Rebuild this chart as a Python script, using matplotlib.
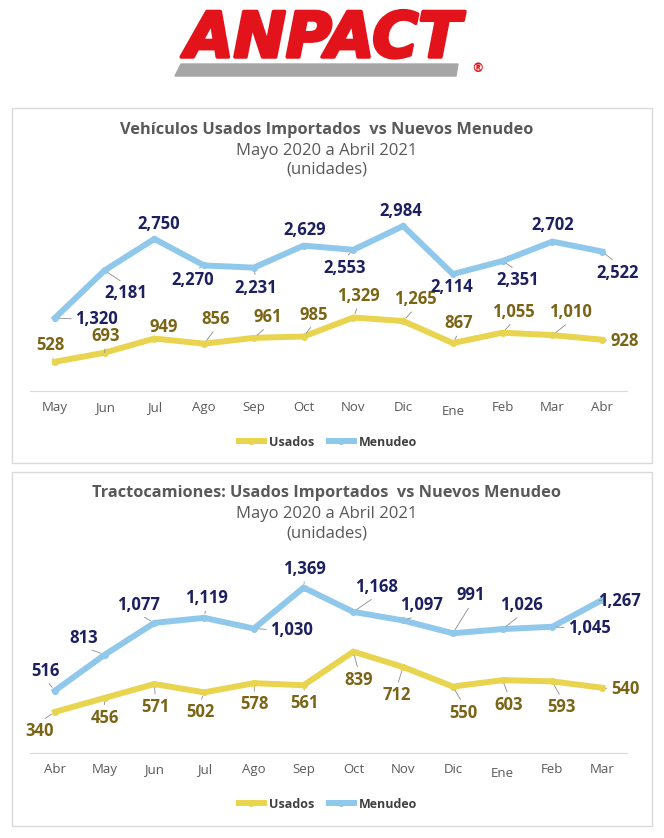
import matplotlib.pyplot as plt
import matplotlib.patheffects as pe
from matplotlib.patches import Rectangle, Polygon
from matplotlib.lines import Line2D

plt.rcParams['font.family'] = ['Open Sans', 'DejaVu Sans']

# datos
meses_veh = ["May", "Jun", "Jul", "Ago", "Sep", "Oct", "Nov", "Dic", "Ene", "Feb", "Mar", "Abr"]
usados_veh = [528, 693, 949, 856, 961, 985, 1329, 1265, 867, 1055, 1010, 928]
menudeo_veh = [1320, 2181, 2750, 2270, 2231, 2629, 2553, 2984, 2114, 2351, 2702, 2522]

meses_tracto = ["Abr", "May", "Jun", "Jul", "Ago", "Sep", "Oct", "Nov", "Dic", "Ene", "Feb", "Mar"]
usados_tracto = [340, 456, 571, 502, 578, 561, 839, 712, 550, 603, 593, 540]
menudeo_tracto = [516, 813, 1077, 1119, 1030, 1369, 1168, 1097, 991, 1026, 1045, 1267]

# posicion de etiquetas (dx, dy en pixeles, dy hacia abajo)
off_usados_veh = [(-4, -17), (1, -17), (9, -12), (12, -25), (14, -21), (10, -22),
                  (5, -22), (12, -22), (6, -20), (11, -21), (18, -23), (23, 1)]
off_menudeo_veh = [(42, 1), (21, 23), (4, -15), (-11, 15), (2, 20), (1, -16),
                   (-9, 18), (-2, -15), (-1, 13), (15, 19), (0, -17), (15, 21)]
off_usados_tracto = [(-15, 19), (0, 20), (1, 23), (-4, 20), (1, 21), (1, 18),
                     (5, 28), (-6, 28), (10, 26), (6, 25), (9, 26), (23, 1)]
off_menudeo_tracto = [(-9, -20), (-21, -17), (-16, -18), (2, -20), (38, 1), (1, -19),
                      (23, -25), (18, -15), (18, -38), (19, -24), (37, 1), (17, 1)]

AMARILLO = "#E8D44E"
AZUL = "#8FC8EB"
TXT_AMARILLO = "#7A6416"
TXT_AZUL = "#1D205E"
GRIS = "#595959"

W, H = 664, 838
fig = plt.figure(figsize=(W / 100, H / 100), dpi=100)


def fx(px):
    return px / W


def fy(py):
    return 1 - py / H


# logo
fig.text(fx(323), fy(40), "ANPACT", ha="center", va="center", fontsize=45,
         family="DejaVu Sans", fontweight="bold", fontstyle="italic", color="#E3131B",
         path_effects=[pe.withStroke(linewidth=2.5, foreground="#E3131B")])
fig.patches.append(Polygon([(fx(181), fy(64)), (fx(458), fy(64)), (fx(456), fy(76)), (fx(175), fy(76))],
                           closed=True, transform=fig.transFigure, color="#A6A6A6"))
fig.text(fx(477), fy(69), "®", ha="center", va="center", fontsize=9, color="#E3131B",
         family="DejaVu Sans", fontweight="bold")


def panel(top, bottom, ax_bottom, ymax, px_unit, meses, usados, menudeo,
          off_u, off_m, titulo, y_titulo, y_leyenda):
    fig.patches.append(Rectangle((fx(12), fy(bottom)), fx(640), (bottom - top) / H,
                                 transform=fig.transFigure, fill=False,
                                 edgecolor="#DADADA", linewidth=1))
    alto = ymax * px_unit
    ax = fig.add_axes([fx(30), fy(ax_bottom), fx(597), alto / H])
    x = list(range(len(meses)))
    ax.plot(x, usados, color=AMARILLO, lw=4.3, marker="o", ms=4, solid_joinstyle="miter")
    ax.plot(x, menudeo, color=AZUL, lw=4.3, marker="o", ms=4, solid_joinstyle="miter")
    ax.set_xlim(-0.5, len(meses) - 0.5)
    ax.set_ylim(0, ymax)
    ax.set_xticks(x)
    ax.set_xticklabels(meses, color=GRIS, fontsize=9.5)
    ax.tick_params(axis="x", length=0, pad=7)
    ax.set_yticks([])
    for s in ["top", "right", "left"]:
        ax.spines[s].set_visible(False)
    ax.spines["bottom"].set_color("#D9D9D9")
    ax.xaxis.get_major_ticks()[meses.index("Ene")].set_pad(10)

    for serie, offs, col in [(usados, off_u, TXT_AMARILLO), (menudeo, off_m, TXT_AZUL)]:
        for i, v in enumerate(serie):
            dx, dy = offs[i]
            dist = (dx ** 2 + dy ** 2) ** 0.5
            if abs(dy) >= abs(dx) * 0.6:
                rel = (0.5, 0.0) if dy < 0 else (0.5, 1.0)
            else:
                rel = (0.0, 0.5) if dx > 0 else (1.0, 0.5)
            props = None
            if dist > 17:
                props = dict(arrowstyle="-", color="#8C8C8C", lw=0.6,
                             relpos=rel, shrinkA=1, shrinkB=3)
            ax.annotate(f"{v:,}", (i, v), xytext=(dx * 0.72, -dy * 0.72),
                        textcoords="offset points", ha="center", va="center",
                        fontsize=12, fontweight="bold", color=col,
                        arrowprops=props, annotation_clip=False)

    lineas = titulo.split("\n")
    fig.text(fx(327), fy(y_titulo), lineas[0], ha="center", va="center",
             fontsize=11.8, fontweight="bold", color=GRIS)
    fig.text(fx(327), fy(y_titulo + 21), lineas[1], ha="center", va="center",
             fontsize=12, color=GRIS)
    fig.text(fx(327), fy(y_titulo + 40), lineas[2], ha="center", va="center",
             fontsize=12, color=GRIS)

    h = [Line2D([], [], color=AMARILLO, lw=4.3, marker="o", ms=4),
         Line2D([], [], color=AZUL, lw=4.3, marker="o", ms=4)]
    ax.legend(h, ["Usados", "Menudeo"], loc="center", ncol=2, frameon=False,
              bbox_to_anchor=(fx(328), fy(y_leyenda)), bbox_transform=fig.transFigure,
              prop=dict(size=9, weight="bold"), labelcolor="#404040",
              handlelength=2.0, handletextpad=0.4, columnspacing=1.2)


panel(108, 463, 391, 3500, 0.0553, meses_veh, usados_veh, menudeo_veh,
      off_usados_veh, off_menudeo_veh,
      "Vehículos Usados Importados  vs Nuevos Menudeo\nMayo 2020 a Abril 2021\n(unidades)",
      130, 442)
panel(472, 826, 753, 1600, 0.1208, meses_tracto, usados_tracto, menudeo_tracto,
      off_usados_tracto, off_menudeo_tracto,
      "Tractocamiones: Usados Importados  vs Nuevos Menudeo\nMayo 2020 a Abril 2021\n(unidades)",
      493, 804)

fig.savefig("out.png", dpi=100, facecolor="white")
